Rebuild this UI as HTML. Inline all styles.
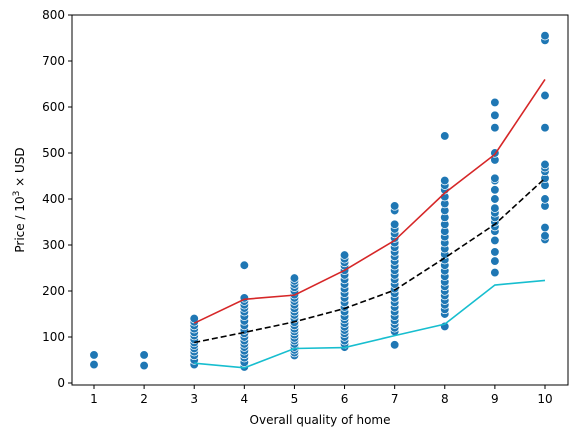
<!DOCTYPE html>
<html><head><meta charset="utf-8"><style>
body{margin:0;background:#fff;font-family:"Liberation Sans","DejaVu Sans",sans-serif}
svg text{font-family:"DejaVu Sans","Liberation Sans",sans-serif;font-size:12px;fill:#000}
</style></head><body>
<svg id="c" width="577" height="438"></svg>
<script>
const categories=[1,2,3,4,5,6,7,8,9,10];
const pts1=[40,61];
const pts2=[38,61];
const pts3=[40,50,60,68,75,82,88,95,103,110,118,125,133,140];
const pts4=[35,45,55,62,70,78,85,92,100,108,115,125,135,145,155,163,170,178,185,256];
const pts5=[60,66,72,78,85,92,98,105,112,118,125,132,140,148,155,162,170,178,185,192,200,208,215,222,228];
const pts6=[78,85,92,100,108,115,122,130,138,145,155,165,175,185,195,205,215,225,235,245,255,262,270,278];
const pts7=[83,112,120,128,136,145,155,165,175,185,195,205,215,225,235,245,255,265,275,285,295,305,315,325,335,345,375,385];
const pts8=[123,150,160,170,180,190,200,210,220,232,244,256,268,280,292,305,318,330,345,360,375,390,405,420,430,440,537];
const pts9=[240,265,285,310,330,340,350,360,370,380,400,420,440,445,485,500,555,582,610];
const pts10=[312,320,338,385,400,430,445,460,468,475,555,625,745,755];
const points=[pts1,pts2,pts3,pts4,pts5,pts6,pts7,pts8,pts9,pts10];
const lineCats=[3,4,5,6,7,8,9,10];
const upper=[130,182,191,245,310,413,497,660];
const mean=[88,110,133,162,202,272,345,445];
const lower=[43,33,75,77,103,128,213,223];
const yTicks=[0,100,200,300,400,500,600,700,800];
const NS='http://www.w3.org/2000/svg';
const svg=document.getElementById('c');
const X=v=>94+(v-1)*50.11, Y=v=>383-v*0.46;
function mk(t,a){const e=document.createElementNS(NS,t);for(const k in a)e.setAttribute(k,a[k]);svg.appendChild(e);return e;}
points.forEach((arr,i)=>arr.forEach(v=>{
 const c=mk('circle',{cx:X(categories[i]),cy:Y(v),r:4.3,fill:'#1f77b4',stroke:'#fff','stroke-width':0.7});
 
 
}));
function line(vals,color,name,dash){
 const p=mk('polyline',{points:vals.map((v,i)=>X(lineCats[i])+','+Y(v)).join(' '),fill:'none',stroke:color,'stroke-width':1.6});
 if(dash)p.setAttribute('stroke-dasharray','6,3');
 
 
}
line(upper,'#d62728','upper-line');
line(mean,'#000','mean-line',true);
line(lower,'#17becf','lower-line');
const f=mk('rect',{x:72,y:15,width:496,height:370,fill:'none',stroke:'#000','stroke-width':1});

categories.forEach(c=>{
 mk('line',{x1:X(c),x2:X(c),y1:385,y2:389,stroke:'#000'});
 const t=mk('text',{x:X(c),y:403,'text-anchor':'middle'});t.textContent=c;
 
});
yTicks.forEach(v=>{
 mk('line',{x1:68,x2:72,y1:Y(v),y2:Y(v),stroke:'#000'});
 const t=mk('text',{x:65,y:Y(v)+4,'text-anchor':'end'});t.textContent=v;
 
});
</script>
<svg style="position:absolute;left:0;top:0" width="577" height="438">
<text x="320" y="424" text-anchor="middle">Overall quality of home</text>
<text transform="translate(24,200) rotate(-90)" text-anchor="middle">Price / 10<tspan dy="-5" font-size="9">3</tspan><tspan dy="5"> × USD</tspan></text>
</svg>
</body></html>
